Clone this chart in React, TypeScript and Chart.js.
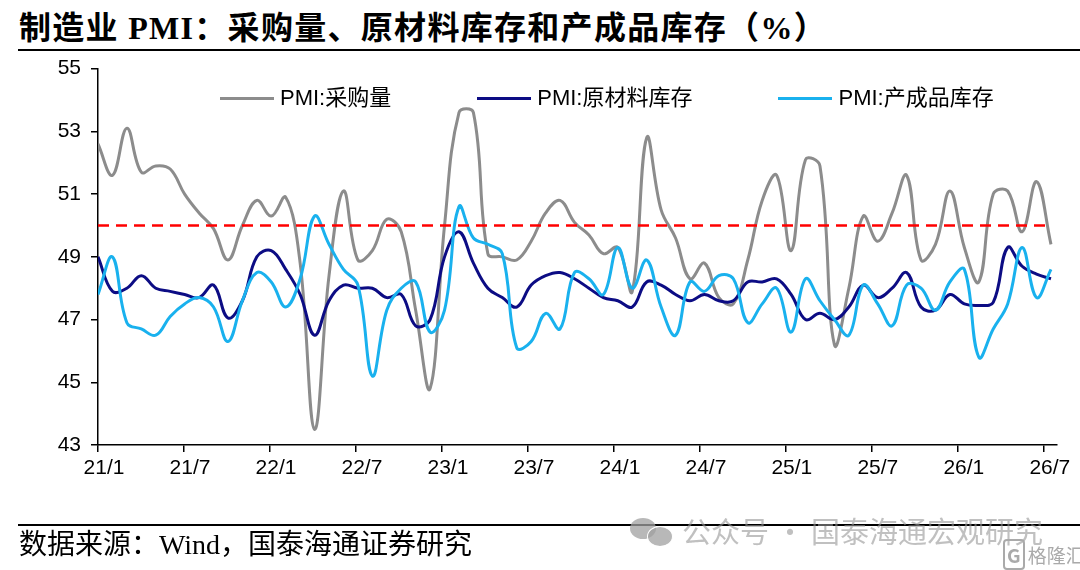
import React, { useEffect, useRef } from "react";
import { Chart, registerables } from "chart.js";

Chart.register(...registerables);

const TITLE = "制造业 PMI：采购量、原材料库存和产成品库存（%）";
const SOURCE = "数据来源：Wind，国泰海通证券研究";
const WATERMARK = "公众号 · 国泰海通宏观研究";
const TICK_LABELS = ["21/1", "21/7", "22/1", "22/7", "23/1", "23/7", "24/1", "24/7", "25/1", "25/7", "26/1", "26/7"];
const SERIES_NAMES = ["PMI:采购量", "PMI:原材料库存", "PMI:产成品库存"];
const SERIES_COLORS = ["#8c8c8c", "#0c0c84", "#19b1ee"];
const THRESHOLD = 50;

const PURCHASE = [
  52.6, 51.6, 53.1, 51.7, 51.9, 51.8, 51.0, 50.4, 49.9, 48.9, 50.0, 50.8,
  50.3, 50.9, 48.8, 43.5, 48.4, 51.1, 48.9, 49.2, 50.2, 49.8, 47.3, 44.8,
  50.0, 53.6, 53.6, 49.1, 49.0, 48.9, 49.5, 50.4, 50.8, 50.1, 49.7, 49.1,
  49.3, 47.9, 52.8, 50.5, 49.6, 48.3, 48.8, 47.7, 47.5, 48.9, 50.8, 51.6,
  49.2, 52.1, 51.9, 46.2, 48.0, 50.3, 49.5, 50.4, 51.6, 48.9, 49.4, 51.1,
  49.3, 48.2, 51.0, 51.1, 49.8, 51.4, 49.4,
];

const RAW_INV = [
  49.0, 47.9, 48.0, 48.4, 48.0, 47.9, 47.8, 47.7, 48.1, 47.05, 47.6, 49.0,
  49.2, 48.6, 47.8, 46.5, 47.6, 48.1, 48.0, 48.0, 47.7, 47.8, 46.8, 47.0,
  49.0, 49.8, 48.8, 48.0, 47.7, 47.4, 48.1, 48.4, 48.5, 48.3, 48.0, 47.7,
  47.6, 47.4, 48.2, 48.1, 47.8, 47.6, 47.8, 47.6, 47.6, 48.2, 48.2, 48.3,
  47.8, 47.0, 47.2, 47.0, 47.4, 48.1, 47.7, 48.0, 48.5, 47.4, 47.3, 47.8,
  47.5, 47.45, 47.55, 49.3, 48.7, 48.45, 48.3,
];

const FINISHED_INV = [
  47.8, 49.0, 46.9, 46.7, 46.5, 47.1, 47.5, 47.7, 47.4, 46.3, 47.6, 48.5,
  48.2, 47.4, 48.3, 50.3, 49.4, 48.6, 48.1, 45.2, 47.3, 48.0, 48.2, 46.6,
  47.3, 50.6, 49.6, 49.4, 49.1, 46.1, 46.3, 47.2, 46.7, 48.5, 48.3, 47.8,
  49.3, 48.0, 48.9, 47.4, 46.5, 48.2, 47.9, 48.4, 48.3, 46.9, 47.5, 48.0,
  46.6, 48.3, 47.6, 47.0, 46.5, 48.1, 47.5, 46.8, 48.1, 48.0, 47.3, 48.2,
  48.6, 45.8, 46.7, 47.5, 49.3, 47.7, 48.6,
];

// axis is measured in months; points are spread slightly wider than the 6-month ticks
const POINT_STEP = 66.5 / 66;
const X_MAX = 66.92;
const MONTHS_PER_TICK = 6;

const toPoints = (arr: number[]) => arr.map((v, i) => ({ x: i * POINT_STEP, y: v }));

const LATIN_SANS = '"Liberation Sans", Arial, "Noto Sans CJK SC", sans-serif';
const SERIF = '"Liberation Serif", "Times New Roman", "Noto Sans CJK SC", serif';

function LineChart() {
  const ref = useRef<HTMLCanvasElement | null>(null);
  useEffect(() => {
    if (!ref.current) return;
    const n = PURCHASE.length;
    const chart = new Chart(ref.current, {
      type: "line",
      data: {
        datasets: [
          {
            label: "50",
            data: [
              { x: 0, y: THRESHOLD },
              { x: (n - 1) * POINT_STEP, y: THRESHOLD },
            ],
            borderColor: "#ff0000",
            borderWidth: 2.5,
            borderDash: [11, 7],
            pointRadius: 0,
            tension: 0,
            order: 0,
          },
          {
            label: SERIES_NAMES[2],
            data: toPoints(FINISHED_INV),
            borderColor: SERIES_COLORS[2],
            borderWidth: 3,
            pointRadius: 0,
            tension: 0.4,
            order: 1,
          },
          {
            label: SERIES_NAMES[1],
            data: toPoints(RAW_INV),
            borderColor: SERIES_COLORS[1],
            borderWidth: 3,
            pointRadius: 0,
            tension: 0.4,
            order: 2,
          },
          {
            label: SERIES_NAMES[0],
            data: toPoints(PURCHASE),
            borderColor: SERIES_COLORS[0],
            borderWidth: 3,
            pointRadius: 0,
            tension: 0.4,
            order: 3,
          },
        ],
      },
      options: {
        animation: false,
        responsive: false,
        devicePixelRatio: 1,
        layout: { padding: { top: 68.7, right: 23, bottom: 0, left: 0 } },
        plugins: {
          legend: { display: false },
          tooltip: { enabled: false },
          title: { display: false },
        },
        scales: {
          x: {
            type: "linear",
            min: 0,
            max: X_MAX,
            afterBuildTicks: (axis: any) => {
              axis.ticks = TICK_LABELS.map((_, k) => ({ value: k * MONTHS_PER_TICK }));
            },
            afterFit: (scale: any) => {
              scale.height = 125;
            },
            ticks: {
              autoSkip: false,
              maxRotation: 0,
              minRotation: 0,
              labelOffset: 6,
              padding: 4,
              color: "#000",
              font: { family: LATIN_SANS, size: 21 },
              callback: (_v: any, index: number) => TICK_LABELS[index] ?? "",
            },
            grid: {
              drawOnChartArea: false,
              drawTicks: true,
              tickLength: 7,
              color: "#000",
              lineWidth: 1.5,
            },
            border: { color: "#000", width: 1.5 },
          },
          y: {
            type: "linear",
            min: 43,
            max: 55,
            afterFit: (scale: any) => {
              scale.width = 98;
            },
            ticks: {
              stepSize: 2,
              padding: 10,
              color: "#000",
              font: { family: LATIN_SANS, size: 21 },
            },
            grid: {
              drawOnChartArea: false,
              drawTicks: true,
              tickLength: 7,
              color: "#000",
              lineWidth: 1.5,
            },
            border: { color: "#000", width: 1.5 },
          },
        },
      },
    } as any);
    return () => chart.destroy();
  }, []);
  return (
    <canvas
      ref={ref}
      width={1080}
      height={570}
      style={{ position: "absolute", left: 0, top: 0, width: 1080, height: 570 }}
    />
  );
}

function Legend() {
  return (
    <div
      style={{
        position: "absolute",
        left: 220,
        top: 84,
        height: 28,
        display: "flex",
        alignItems: "center",
        gap: 86,
        fontFamily: LATIN_SANS,
        fontSize: 22,
        color: "#000",
        whiteSpace: "nowrap",
      }}
    >
      {SERIES_NAMES.map((name, i) => (
        <div key={name} style={{ display: "flex", alignItems: "center" }}>
          <div style={{ width: 54, height: 3, background: SERIES_COLORS[i], marginRight: 6 }} />
          <span style={{ lineHeight: "28px" }}>{name}</span>
        </div>
      ))}
    </div>
  );
}

export default function App() {
  return (
    <div
      style={{
        position: "absolute",
        left: 0,
        top: 0,
        width: 1080,
        height: 570,
        background: "#fff",
        overflow: "hidden",
      }}
    >
      <div
        style={{
          position: "absolute",
          left: 19,
          top: 10,
          fontFamily: SERIF,
          fontWeight: "bold",
          fontSize: 32,
          lineHeight: "36px",
          letterSpacing: 1.3,
          color: "#000",
          whiteSpace: "nowrap",
        }}
      >
        {TITLE}
      </div>
      <div style={{ position: "absolute", left: 18, top: 49, width: 1062, height: 2, background: "#000" }} />
      <LineChart />
      <Legend />
      <div style={{ position: "absolute", left: 18, top: 524, width: 1062, height: 2, background: "#000" }} />
      <div
        style={{
          position: "absolute",
          left: 19,
          top: 529,
          fontFamily: SERIF,
          fontSize: 28,
          lineHeight: "32px",
          color: "#000",
          whiteSpace: "nowrap",
        }}
      >
        {SOURCE}
      </div>
      <div style={{ position: "absolute", left: 630, top: 518, width: 26, height: 21, borderRadius: "50%", background: "rgba(160,160,160,0.75)" }} />
      <div style={{ position: "absolute", left: 647, top: 526, width: 24, height: 19, borderRadius: "50%", background: "rgba(160,160,160,0.75)", border: "1.5px solid #fff" }} />
      <div
        style={{
          position: "absolute",
          left: 682,
          top: 513,
          fontFamily: '"Noto Sans CJK SC", sans-serif',
          fontSize: 29,
          lineHeight: "34px",
          color: "rgba(150,150,150,0.6)",
          whiteSpace: "nowrap",
        }}
      >
        {WATERMARK}
      </div>
      <div
        style={{
          position: "absolute",
          left: 1003,
          top: 544,
          fontFamily: '"Noto Sans CJK SC", sans-serif',
          fontSize: 19,
          lineHeight: "22px",
          color: "#aaaaaa",
          whiteSpace: "nowrap",
        }}
      >
        <span style={{ border: "2px solid #aaaaaa", borderRadius: 4, padding: "0 2px", marginRight: 3, fontWeight: "bold" }}>G</span>
        格隆汇
      </div>
    </div>
  );
}
